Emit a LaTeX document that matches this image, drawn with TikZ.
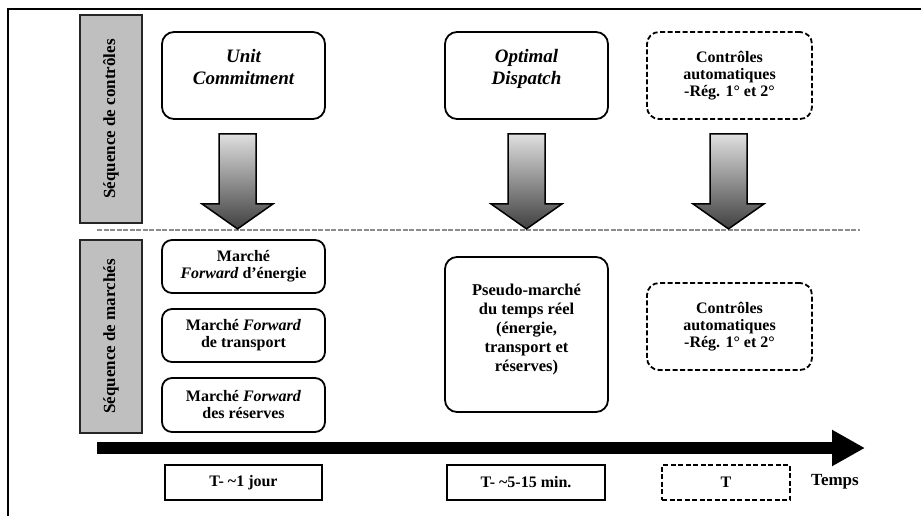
\documentclass[tikz,border=0pt]{standalone}
\usepackage{fontspec}
\setmainfont{Liberation Serif}
\usetikzlibrary{arrows.meta,positioning,calc}

% flèche large dégradée (point de départ = haut du fût)
\newcommand{\flecheBloc}[1]{%
  \shadedraw[fleche] (#1) ++(-18.5,0) -- ++(37,0) -- ++(0,70) -- ++(17,0)
    -- ++(-35.5,25) -- ++(-35.5,-25) -- ++(17,0) -- cycle;}

\begin{document}
\begin{tikzpicture}[x=1pt, y=-1pt, >=Latex,
  txt/.style={font=\fontsize{16}{17}\selectfont\bfseries, align=center},
  boite/.style={txt, draw, line width=1.8pt, rounded corners=12pt, inner sep=2pt},
  boitept/.style={boite, dash pattern=on 5pt off 2.5pt},
  cote/.style={draw=black!85, line width=1.8pt, fill=gray!50, rotate=90,
    font=\fontsize{17}{18}\selectfont\bfseries},
  temps/.style={txt, draw, line width=1.2pt, minimum height=35pt},
  fleche/.style={draw=black, line width=1.5pt, top color=gray!25, bottom color=black!75}]

  \useasboundingbox (0,0) rectangle (921,516);
  % cadre (seulement haut et gauche)
  \draw[line width=1.5pt] (921,9) -- (8,9) -- (8,516);

  % bandeaux latéraux
  \node[cote, minimum width=208pt, minimum height=62pt] (sc) at (111,119) {Séquence de contrôles};
  \node[cote, minimum width=193pt, minimum height=62pt] (sm) at (111,336.5) {Séquence de marchés};

  % séquence de contrôles
  \node[boite, minimum width=163pt, minimum height=87pt, font=\fontsize{19}{22}\selectfont\bfseries\itshape]
    (uc) at (243.5,75.5) {Unit\\Commitment\\[-4pt]\mbox{}};
  \node[boite, minimum width=163pt, minimum height=87pt, font=\fontsize{19}{22}\selectfont\bfseries\itshape]
    (od) at (526.5,75.5) {Optimal\\Dispatch\\[-4pt]\mbox{}};
  \node[boitept, minimum width=165pt, minimum height=87pt] (ca1) at (729.5,75.5)
    {Contrôles\\automatiques\\-Rég. 1° et 2°};

  % séparation
  \draw[gray!90, line width=1.5pt, dash pattern=on 5pt off 1.5pt] (97,230) -- (860,230);

  \coordinate (f1) at ($(uc.south)+(-6,14)$);
  \coordinate (f2) at ($(od.south)+(0,14)$);
  \coordinate (f3) at ($(ca1.south)+(-1,14)$);
  \flecheBloc{f1}
  \flecheBloc{f2}
  \flecheBloc{f3}

  % séquence de marchés
  \node[boite, rounded corners=10pt, minimum width=163pt, minimum height=53pt] (e1) at (243.5,266.5)
    {Marché\\\textit{Forward} d’énergie};
  \node[boite, rounded corners=10pt, minimum width=163pt, minimum height=53pt] (e2) at (243.5,335.5)
    {Marché \textit{Forward}\\de transport};
  \node[boite, rounded corners=10pt, minimum width=163pt, minimum height=54pt] (e3) at (243.5,405)
    {Marché \textit{Forward}\\des réserves};
  \node[boite, minimum width=163pt, minimum height=155pt, font=\fontsize{16.5}{19}\selectfont\bfseries]
    (pm) at (526.5,334.5) {Pseudo-marché\\du temps réel\\(énergie,\\transport et\\réserves)\\[-6pt]\mbox{}};
  \node[boitept, minimum width=165pt, minimum height=87pt] (ca2) at (729.5,326.5)
    {Contrôles\\automatiques\\-Rég. 1° et 2°};

  % axe du temps
  \coordinate (a0) at (97,448);
  \coordinate (a1) at (865,448);
  \draw[line width=12pt, -{Triangle[length=33pt, width=34pt]}] (a0) -- (a1);

  \node[temps, minimum width=157pt] (t1) at (243.5,482.5) {T- \textasciitilde1 jour};
  \node[temps, minimum width=158pt] (t2) at (526,482.5) {T- \textasciitilde5-15 min.};
  \node[temps, minimum width=128pt, line width=1.8pt, dash pattern=on 5pt off 2.5pt] (t3) at (726,482.5) {T};
  \node[txt, font=\fontsize{17}{18}\selectfont\bfseries] (tp) at (835,482) {Temps};
\end{tikzpicture}
\end{document}
